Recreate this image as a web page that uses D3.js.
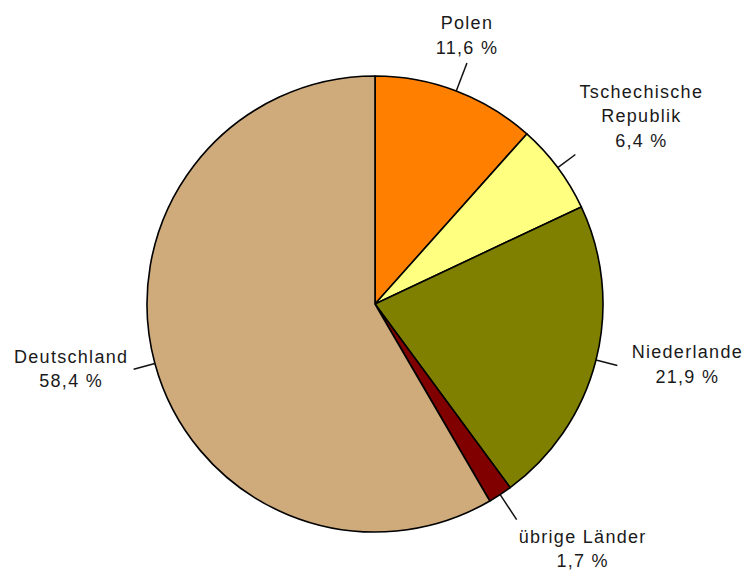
<!DOCTYPE html>
<html>
<head>
<meta charset="utf-8">
<script src="https://cdn.jsdelivr.net/npm/d3@7"></script>
<style>
  body { margin: 0; background: #fff; }
  text { font-family: "Liberation Sans", Arial, sans-serif; font-size: 18px; letter-spacing: 1.3px; fill: #1a1a1a; }
</style>
</head>
<body>
<svg id="chart" width="748" height="574"></svg>
<script>
// Anteile in Prozent, im Uhrzeigersinn ab 12 Uhr
var laender = ['Polen', 'Tschechische Republik', 'Niederlande', 'übrige Länder', 'Deutschland'];
var anteile = [11.6, 6.4, 21.9, 1.7, 58.4];
var beschriftung = [['Polen', '11,6 %'], ['Tschechische', 'Republik', '6,4 %'],
  ['Niederlande', '21,9 %'], ['übrige Länder', '1,7 %'], ['Deutschland', '58,4 %']];
var farben = ['#ff8000', '#ffff80', '#808000', '#800000', '#cfab7b'];

// layout only: leader length, label block offset from leader end
var leader = [
  {len: 30, dx: 0, dy: -28},
  {len: 22, dx: 66, dy: -38.5},
  {len: 22, dx: 70, dy: -1},
  {len: 30, dx: 66, dy: 29},
  {len: 22, dx: -62.5, dy: -0.5}
];

var cx = 375, cy = 304, r = 228;
var svg = d3.select('#chart');
var g = svg.append('g').attr('transform', 'translate(' + cx + ',' + cy + ')');

var pie = d3.pie().sort(null).value(function(d) { return d; });
var arc = d3.arc().innerRadius(0).outerRadius(r);
var color = d3.scaleOrdinal().domain(laender).range(farben);

var arcs = pie(anteile);

g.selectAll('path')
    .data(arcs)
  .enter().append('path')
    .attr('d', arc)
    .style('fill', function(d, i) { return color(laender[i]); })
    .style('stroke', '#000')
    .style('stroke-width', 1.6)
    .style('stroke-linejoin', 'round');

function pt(a, rad) { return [Math.sin(a) * rad, -Math.cos(a) * rad]; }

// Leader lines and labels
arcs.forEach(function(d, i) {
  var mid = (d.startAngle + d.endAngle) / 2;
  var p0 = pt(mid, r), p1 = pt(mid, r + leader[i].len);
  g.append('line')
      .attr('x1', p0[0]).attr('y1', p0[1])
      .attr('x2', p1[0]).attr('y2', p1[1])
      .style('stroke', '#111')
      .style('stroke-width', 1.5);

  var lines = beschriftung[i];
  var lx = p1[0] + leader[i].dx;
  var ly = p1[1] + leader[i].dy;
  var lh = 24.5;
  var top = ly - (lines.length - 1) * lh / 2;
  var t = g.append('text').attr('text-anchor', 'middle');
  lines.forEach(function(s, j) {
    t.append('tspan')
        .attr('x', lx)
        .attr('y', top + j * lh)
        .attr('dy', '0.35em')
        .text(s);
  });
});
</script>
</body>
</html>
